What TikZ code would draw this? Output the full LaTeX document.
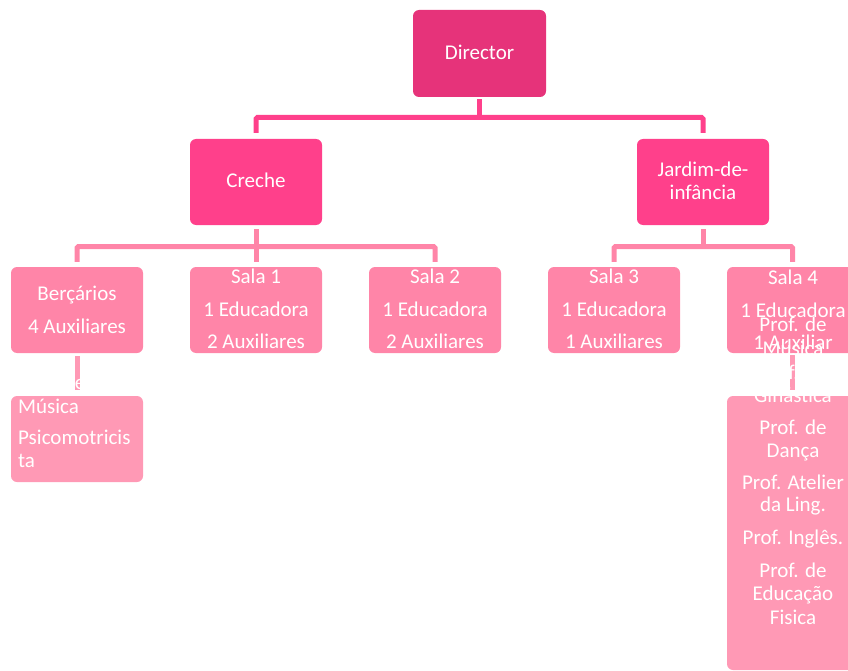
\documentclass[tikz,border=0pt]{standalone}
\usepackage{fontspec}
\setmainfont{Carlito}
\definecolor{cDir}{RGB}{230,51,122}
\definecolor{cLtwo}{RGB}{255,64,139}
\definecolor{cLthree}{RGB}{255,133,168}
\definecolor{cLfour}{RGB}{255,153,181}
\begin{document}
\begin{tikzpicture}[x=1pt,y=-1pt,
  box/.style={rectangle, rounded corners=6pt, minimum width=132pt, minimum height=86pt, inner sep=0pt, draw=none},
  lbl/.style={text=white, font=\fontsize{21}{25}\selectfont, inner sep=0pt, anchor=base},
  lbll/.style={lbl, anchor=base west},
  conn/.style={line width=5pt, rounded corners=1.5pt}]
\useasboundingbox (0,0) rectangle (848,671);
\clip (0,0) rectangle (848,671);
% boxes
\node[box, fill=cDir, minimum width=133pt, minimum height=87pt] (dir) at (479.5,53.5) {};
\node[box, fill=cLtwo] (creche) at (256,182) {};
\node[box, fill=cLtwo] (jardim) at (703,182) {};
\node[box, fill=cLthree] (berc) at (77,310) {};
\node[box, fill=cLthree] (sala1) at (256,310) {};
\node[box, fill=cLthree] (sala2) at (435,310) {};
\node[box, fill=cLthree] (sala3) at (614,310) {};
\node[box, fill=cLthree] (sala4) at (793,310) {};
\node[box, fill=cLfour] (bercsub) at (77,439) {};
\node[box, fill=cLfour, minimum height=274pt] (sfoursub) at (793,533) {};
% connectors
\coordinate (busa) at (479.5,117.5);
\draw[conn, cLtwo] ([yshift=-2pt]dir.south) -- (busa);
\draw[conn, cLtwo] ([yshift=6pt]creche.north) |- (busa) -| ([yshift=6pt]jardim.north);
\coordinate (busb) at (256,246.5);
\draw[conn, cLthree] ([yshift=-4pt]creche.south) -- (busb);
\draw[conn, cLthree] ([yshift=5pt]berc.north) |- (busb) -| ([yshift=5pt]sala2.north);
\draw[conn, cLthree] (busb) -- ([yshift=5pt]sala1.north);
\coordinate (busc) at (703,246.5);
\draw[conn, cLthree] ([yshift=-4pt]jardim.south) -- (busc);
\draw[conn, cLthree] ([yshift=5pt]sala3.north) |- (busc) -| ([xshift=-0.5pt,yshift=5pt]sala4.north);
\draw[conn, cLfour] ([yshift=-3pt]berc.south) -- ([yshift=6pt]bercsub.north);
\draw[conn, cLfour] ([xshift=-0.5pt,yshift=-2pt]sala4.south) -- ([xshift=-0.5pt,yshift=6pt]sfoursub.north);
% texts
\node[lbl] (tdir) at (479.5,60) {Director};
\node[lbl] (tcre) at (256,188) {Creche};
\node[lbl] (tja) at (703,177) {Jardim-de-};
\node[lbl] (tjb) at (703,200) {infância};
\node[lbl] (tba) at (77,300) {Berçários};
\node[lbl] (tbb) at (77,333) {4 Auxiliares};
\node[lbl] (tsaa) at (256,283) {Sala 1};
\node[lbl] (tsab) at (256,316) {1 Educadora};
\node[lbl] (tsac) at (256,348) {2 Auxiliares};
\node[lbl] (tsba) at (435,283) {Sala 2};
\node[lbl] (tsbb) at (435,316) {1 Educadora};
\node[lbl] (tsbc) at (435,348) {2 Auxiliares};
\node[lbl] (tsca) at (614,283) {Sala 3};
\node[lbl] (tscb) at (614,316) {1 Educadora};
\node[lbl] (tscc) at (614,348) {1 Auxiliares};
\node[lbl] (tsda) at (793,284) {Sala 4};
\node[lbl] (tsdb) at (793,317) {1 Educadora};
\node[lbl] (tsdc) at (793,349) {1 Auxiliar};
% Bercarios sub
\node[lbll] (tbsa) at (18,389) {Prof. de};
\node[lbll] (tbsb) at (18,413) {Música};
\node[lbll] (tbsc) at (18,444) {Psicomotricis};
\node[lbll] (tbsd) at (18,467) {ta};
% Sala 4 sub
\node[lbl] (tfa) at (793,331) {Prof. de};
\node[lbl] (tfb) at (793,355) {Música};
\node[lbl] (tfc) at (793,379) {Prof. de};
\node[lbl] (tfd) at (793,402) {Ginástica};
\node[lbl] (tfe) at (793,434) {Prof. de};
\node[lbl] (tff) at (793,457) {Dança};
\node[lbl] (tfg) at (793,489) {Prof. Atelier};
\node[lbl] (tfh) at (793,511) {da Ling.};
\node[lbl] (tfi) at (793,544) {Prof. Inglês.};
\node[lbl] (tfj) at (793,577) {Prof. de};
\node[lbl] (tfk) at (793,600) {Educação};
\node[lbl] (tfl) at (793,624) {Fisica};
\end{tikzpicture}
\end{document}
